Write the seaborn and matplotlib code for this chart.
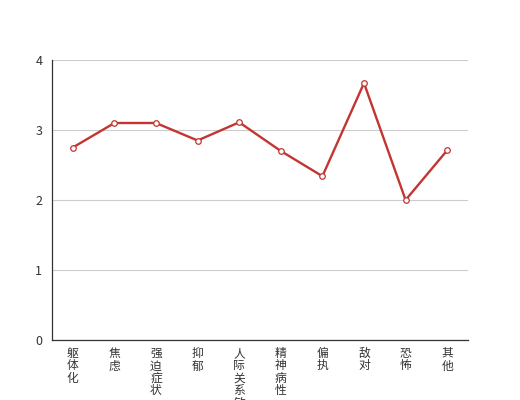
import matplotlib
matplotlib.use("Agg")
import matplotlib.pyplot as plt
from matplotlib.ticker import FixedLocator
import seaborn as sns
import pandas as pd
import numpy as np

# --- data ---
categories = ['躯体化', '焦虑', '强迫症状', '抑郁', '人际关系敏感',
              '精神病性', '偏执', '敌对', '恐怖', '其他']
scores = [2.75, 3.10, 3.10, 2.85, 3.11, 2.70, 2.34, 3.67, 2.00, 2.71]
y_ticks = [0, 1, 2, 3, 4]

LINE_COLOR = '#c23531'

sns.set_style('white')
plt.rcParams['font.family'] = ['Noto Sans CJK SC', 'DejaVu Sans']

df = pd.DataFrame({'category': categories, 'score': scores})

fig = plt.figure(figsize=(5.2, 4), dpi=100)
ax = fig.add_axes([0.1, 0.15, 0.8, 0.70])

sns.lineplot(data=df, x='category', y='score', ax=ax, color=LINE_COLOR,
             linewidth=1.7, marker='o', markersize=4,
             markerfacecolor='white', markeredgecolor=LINE_COLOR,
             markeredgewidth=0.9, sort=False)

n = len(categories)
ax.set_xlim(-0.5, n - 0.5)
ax.set_ylim(0, 4)
ax.set_yticks(y_ticks)
ax.yaxis.grid(True, color='#cccccc', linewidth=0.8)
ax.xaxis.grid(False)
ax.set_axisbelow(True)

# category labels stacked vertically, ticks at category boundaries
ax.set_xticks(np.arange(n))
ax.set_xticklabels(['\n'.join(c) for c in categories], va='top',
                   fontsize=8.5, color='#333333', linespacing=0.95)
ax.xaxis.set_minor_locator(FixedLocator(np.arange(n + 1) - 0.5))
ax.tick_params(axis='x', which='major', length=0, pad=5)
ax.tick_params(axis='x', which='minor', length=4, color='#333333', direction='out')
ax.tick_params(axis='y', length=4, color='#333333', direction='out',
               labelsize=9, labelcolor='#333333', pad=3)

for side in ['top', 'right']:
    ax.spines[side].set_visible(False)
for side in ['left', 'bottom']:
    ax.spines[side].set_color('#333333')
    ax.spines[side].set_linewidth(0.9)

ax.set_xlabel('')
ax.set_ylabel('')

fig.savefig('out.png', dpi=100)
